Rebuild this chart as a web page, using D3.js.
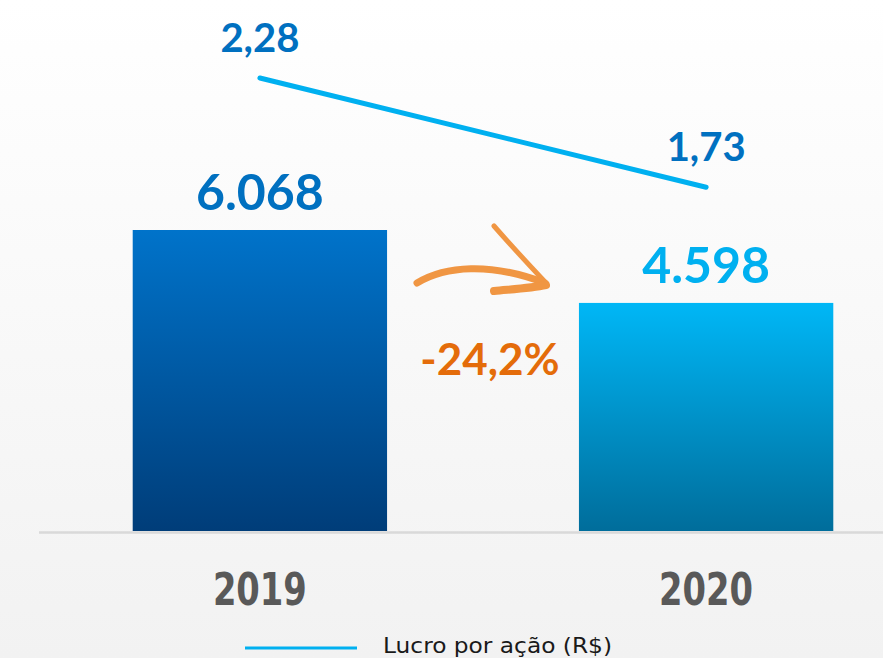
<!DOCTYPE html>
<html>
<head>
<meta charset="utf-8">
<script src="https://cdn.jsdelivr.net/npm/d3@7"></script>
<style>
  html, body { margin: 0; padding: 0; background: #fff; }
  svg { display: block; }
</style>
</head>
<body>
<svg id="chart"></svg>
<script>
const years = ['2019', '2020'];
const lucro = [6068, 4598];
const lucroLabels = ['6.068', '4.598'];
const lpa = [2.28, 1.73];
const lpaLabels = ['2,28', '1,73'];
const variacao = '-24,2%';
const legendLabel = 'Lucro por ação (R$)';

const width = 883, height = 658;
const baseline = 531;

const svg = d3.select('#chart')
	.attr('width', width)
	.attr('height', height);

const defs = svg.append('defs');

const bg = defs.append('linearGradient')
	.attr('id', 'bg').attr('x1', 0).attr('y1', 0).attr('x2', 0).attr('y2', 1);
bg.append('stop').attr('offset', '0%').attr('stop-color', '#ffffff');
bg.append('stop').attr('offset', '100%').attr('stop-color', '#f2f2f2');

const barColors = [['#0073ca', '#003d79'], ['#00b7f6', '#006d9b']];
barColors.forEach((c, i) => {
	const g = defs.append('linearGradient')
		.attr('id', 'bar' + i).attr('x1', 0).attr('y1', 0).attr('x2', 0).attr('y2', 1);
	g.append('stop').attr('offset', '0%').attr('stop-color', c[0]);
	g.append('stop').attr('offset', '100%').attr('stop-color', c[1]);
});

svg.append('rect')
	.attr('width', width).attr('height', height)
	.attr('fill', 'url(#bg)');

const xScale = d3.scaleBand()
	.domain(years)
	.range([39, 927])
	.paddingInner(0.43)
	.paddingOuter(0.21);

const yScale = d3.scaleLinear()
	.domain([0, 6068])
	.range([baseline, 230]);

const yScaleRight = d3.scaleLinear()
	.domain([0, 2.28])
	.range([baseline, 78]);

// bars
svg.selectAll('.bar')
	.data(lucro)
	.enter()
	.append('rect')
	.attr('class', 'bar')
	.attr('x', (d, i) => xScale(years[i]))
	.attr('y', d => yScale(d))
	.attr('width', xScale.bandwidth())
	.attr('height', d => baseline - yScale(d))
	.attr('fill', (d, i) => `url(#bar${i})`);

// baseline
svg.append('line')
	.attr('x1', 39).attr('x2', width)
	.attr('y1', baseline + 1.5).attr('y2', baseline + 1.5)
	.attr('stroke', '#d9d9d9')
	.attr('stroke-width', 2.5);

const cx = i => xScale(years[i]) + xScale.bandwidth() / 2;

// bar labels
svg.selectAll('.barlabel')
	.data(lucro)
	.enter()
	.append('text')
	.attr('x', (d, i) => cx(i))
	.attr('y', d => yScale(d) - 20)
	.attr('text-anchor', 'middle')
	.attr('font-family', 'Lato, "Open Sans", sans-serif')
	.attr('font-weight', 'bold')
	.attr('font-size', 50)
	.attr('fill', (d, i) => i === 0 ? '#0070c0' : '#00b0f0')
	.text((d, i) => lucroLabels[i]);

// year labels
svg.selectAll('.year')
	.data(years)
	.enter()
	.append('text')
	.attr('x', (d, i) => cx(i))
	.attr('y', 605)
	.attr('text-anchor', 'middle')
	.attr('font-family', '"DejaVu Sans Condensed", "Liberation Sans Narrow", sans-serif')
	.attr('font-weight', 'bold')
	.attr('font-size', 45)
	.attr('textLength', 94)
	.attr('lengthAdjust', 'spacingAndGlyphs')
	.attr('fill', '#595959')
	.text(d => d);

// line
const line = d3.line()
	.x((d, i) => cx(i))
	.y(d => yScaleRight(d));

svg.append('path')
	.datum(lpa)
	.attr('d', line)
	.attr('fill', 'none')
	.attr('stroke', '#00b0f0')
	.attr('stroke-width', 5)
	.attr('stroke-linecap', 'round');

svg.selectAll('.lpalabel')
	.data(lpa)
	.enter()
	.append('text')
	.attr('x', (d, i) => cx(i))
	.attr('y', d => yScaleRight(d) - 26)
	.attr('text-anchor', 'middle')
	.attr('font-family', 'Lato, "Open Sans", sans-serif')
	.attr('font-weight', 'bold')
	.attr('font-size', 40)
	.attr('fill', '#0070c0')
	.text((d, i) => lpaLabels[i]);

// arrow (brush-like)
const arrow = svg.append('g')
	.attr('fill', 'none')
	.attr('stroke', '#f0913a')
	.attr('stroke-linecap', 'round')
	.attr('opacity', 0.95);
arrow.append('path')
	.attr('d', 'M417,283 C445,266 490,262 545,283')
	.attr('stroke-width', 7);
arrow.append('path')
	.attr('d', 'M494,226 C515,250 532,268 546,283')
	.attr('stroke-width', 5);
arrow.append('path')
	.attr('d', 'M494,291 C515,289 532,288 546,285')
	.attr('stroke-width', 8);

svg.append('text')
	.attr('x', 490)
	.attr('y', 375)
	.attr('text-anchor', 'middle')
	.attr('font-family', 'Lato, "Open Sans", sans-serif')
	.attr('font-weight', 'bold')
	.attr('font-size', 44)
	.attr('fill', '#e46c0a')
	.text(variacao);

// legend
svg.append('line')
	.attr('x1', 245).attr('x2', 357)
	.attr('y1', 648).attr('y2', 648)
	.attr('stroke', '#00b0f0')
	.attr('stroke-width', 3);

svg.append('text')
	.attr('x', 383)
	.attr('y', 653)
	.attr('font-family', '"DejaVu Sans", "Open Sans", sans-serif')
	.attr('font-size', 21)
	.attr('textLength', 229)
	.attr('lengthAdjust', 'spacingAndGlyphs')
	.attr('fill', '#1a1a1a')
	.text(legendLabel);
</script>
</body>
</html>
